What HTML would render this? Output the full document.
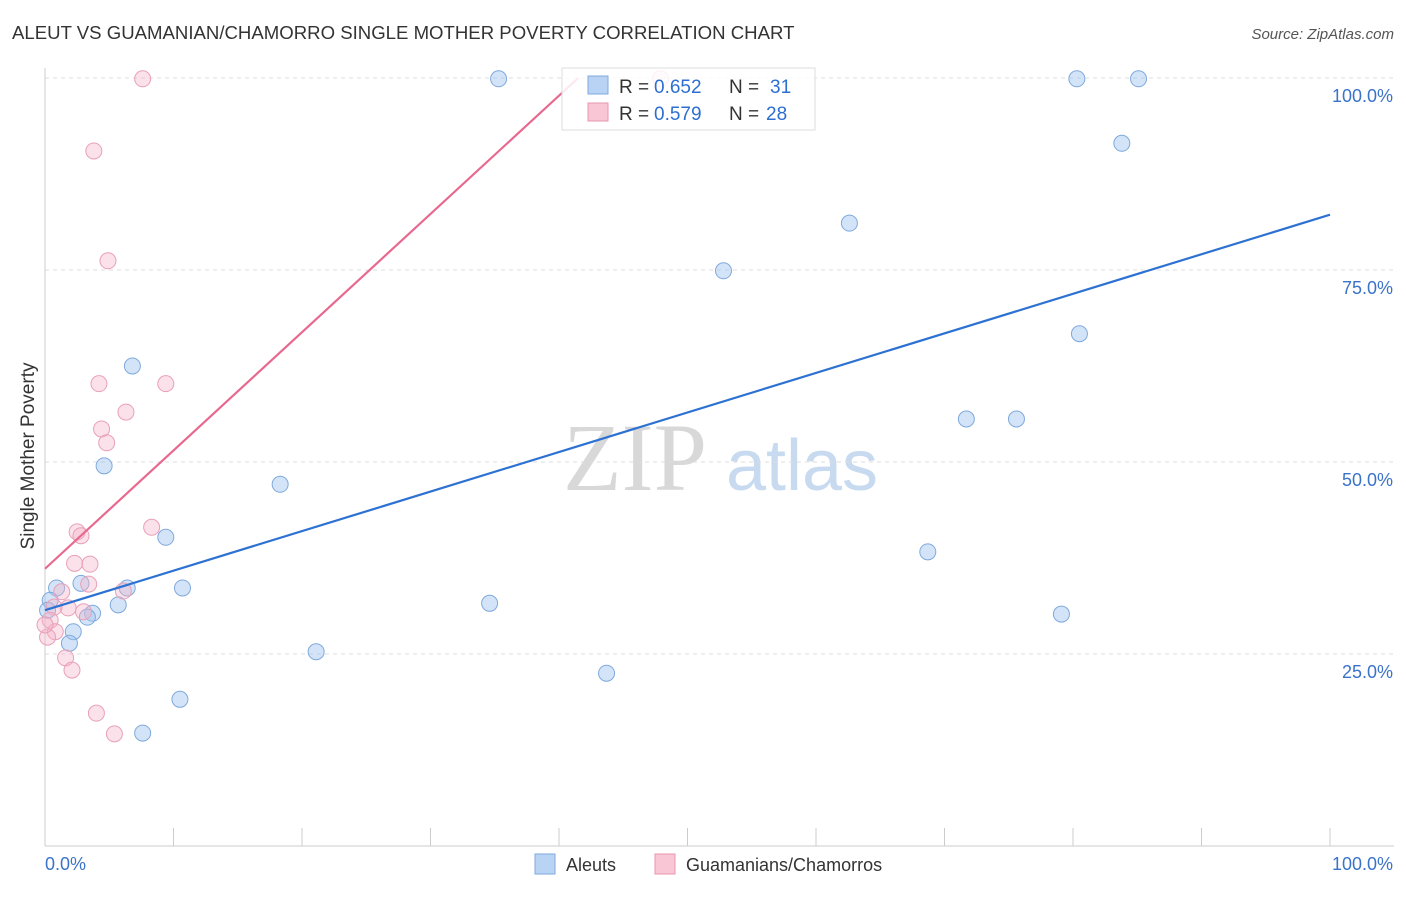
<!DOCTYPE html>
<html><head><meta charset="utf-8"><style>
body{margin:0;background:#fff;font-family:"Liberation Sans",sans-serif}
svg text{font-family:"Liberation Sans",sans-serif}
</style></head><body>
<svg id="c" width="1406" height="892">
<text x="12" y="39" font-size="18.6" fill="#333">ALEUT VS GUAMANIAN/CHAMORRO SINGLE MOTHER POVERTY CORRELATION CHART</text>
<text x="1394" y="39" font-size="15" fill="#555" text-anchor="end" font-style="italic">Source: ZipAtlas.com</text>
<text x="34" y="456" font-size="19" fill="#333" text-anchor="middle" transform="rotate(-90 34 456)">Single Mother Poverty</text>
<g>
<text x="635" y="490" font-size="96" fill="#d8d8d8" text-anchor="middle" style="font-family:'Liberation Serif',serif">ZIP</text>
<text x="802" y="490" font-size="72" fill="#c8daf0" text-anchor="middle">atlas</text>
</g>
<g id="grid"></g><g id="axes"></g><g id="marks"></g>
<g>
<rect x="562" y="68" width="253" height="62" fill="#fff" fill-opacity="0.85" stroke="#ddd"/>
<rect x="588" y="76" width="20" height="18" fill="#b8d3f3" stroke="#7fa9dc"/>
<text x="619" y="93" font-size="19" fill="#333">R =</text>
<text x="654" y="93" font-size="19" fill="#2d6fd0">0.652</text>
<text x="729" y="93" font-size="19" fill="#333">N =</text>
<text x="770" y="93" font-size="19" fill="#2d6fd0">31</text>
<rect x="588" y="103" width="20" height="18" fill="#f8c6d5" stroke="#e895ae"/>
<text x="619" y="120" font-size="19" fill="#333">R =</text>
<text x="654" y="120" font-size="19" fill="#2d6fd0">0.579</text>
<text x="729" y="120" font-size="19" fill="#333">N =</text>
<text x="766" y="120" font-size="19" fill="#2d6fd0">28</text>
</g>
<g>
<rect x="535" y="854" width="20" height="20" fill="#b8d3f3" stroke="#7fa9dc"/>
<text x="566" y="871" font-size="18" fill="#333">Aleuts</text>
<rect x="655" y="854" width="20" height="20" fill="#f8c6d5" stroke="#e895ae"/>
<text x="686" y="871" font-size="18" fill="#333">Guamanians/Chamorros</text>
</g>
</svg>
<script>
const blueX=[35.3,80.3,85.1,83.8,62.6,52.8,80.5,6.8,4.6,71.7,75.6,18.3,9.4,68.7,0.9,2.8,6.4,10.7,5.7,34.6,3.7,3.3,79.1,0.4,2.2,1.9,21.1,43.7,10.5,7.6,0.2];
const blueY=[99.9,99.9,99.9,91.5,81.1,74.9,66.7,62.5,49.5,55.6,55.6,47.1,40.2,38.3,33.6,34.2,33.6,33.6,31.4,31.6,30.3,29.8,30.2,32.0,27.9,26.4,25.3,22.5,19.1,14.7,30.7];
const pinkX=[7.6,47.9,3.8,4.9,4.2,9.4,6.3,4.4,4.8,8.3,2.5,2.8,2.3,3.5,3.4,1.3,6.1,1.8,0.7,3.0,0.4,0.8,0.2,1.6,2.1,4.0,5.4,0];
const pinkY=[99.9,99.9,90.5,76.2,60.2,60.2,56.5,54.3,52.5,41.5,40.9,40.4,36.8,36.7,34.1,33.1,33.2,31.0,31.1,30.5,29.4,27.9,27.2,24.5,22.9,17.3,14.6,28.8];
const blueTrend=[30.7,82.2];
const pinkTrend=[36.1,1.54];
const yTicks=[25,50,75,100];
const yTickLabels=["25.0%","50.0%","75.0%","100.0%"];
const xs=v=>45+v*12.85, ys=v=>846-v*7.68;
const NS="http://www.w3.org/2000/svg";
function mk(t,a,p){const e=document.createElementNS(NS,t);for(const k in a)e.setAttribute(k,a[k]);p.appendChild(e);return e;}
const grid=document.getElementById('grid'),axes=document.getElementById('axes'),marks=document.getElementById('marks');
yTicks.forEach((t,i)=>{
 const g=mk('line',{x1:45,x2:1394,y1:ys(t),y2:ys(t),stroke:'#ddd','stroke-dasharray':'4,4'},grid);
 
 
 const l=mk('text',{x:1393,y:ys(t)+24,'font-size':18,fill:'#3a73c9','text-anchor':'end'},axes);l.textContent=yTickLabels[i];
 
 
});
mk('line',{x1:45,x2:45,y1:68,y2:846,stroke:'#ccc'},axes);
mk('line',{x1:45,x2:1394,y1:846,y2:846,stroke:'#ccc'},axes);
for(let i=0;i<=10;i++){mk('line',{x1:xs(i*10),x2:xs(i*10),y1:828,y2:846,stroke:'#ccc'},axes);}
let t=mk('text',{x:45,y:870,'font-size':18,fill:'#3a73c9'},axes);t.textContent='0.0%';


t=mk('text',{x:1393,y:870,'font-size':18,fill:'#3a73c9','text-anchor':'end'},axes);t.textContent='100.0%';


blueX.forEach((x,i)=>{const c=mk('circle',{cx:xs(x),cy:ys(blueY[i]),r:8,fill:'rgba(160,196,240,0.45)',stroke:'#7fa9dc'},marks);
 
 });
pinkX.forEach((x,i)=>{const c=mk('circle',{cx:xs(x),cy:ys(pinkY[i]),r:8,fill:'rgba(246,180,200,0.4)',stroke:'#e9a0b8'},marks);
 
 });
let l=mk('line',{x1:xs(0),y1:ys(blueTrend[0]),x2:xs(100),y2:ys(blueTrend[1]),stroke:'#2d72d2','stroke-width':2.2},marks);


const pxEnd=(100-pinkTrend[0])/pinkTrend[1];
l=mk('line',{x1:xs(0),y1:ys(pinkTrend[0]),x2:xs(pxEnd),y2:ys(100),stroke:'#e8698f','stroke-width':2.2},marks);


</script>
</body></html>
